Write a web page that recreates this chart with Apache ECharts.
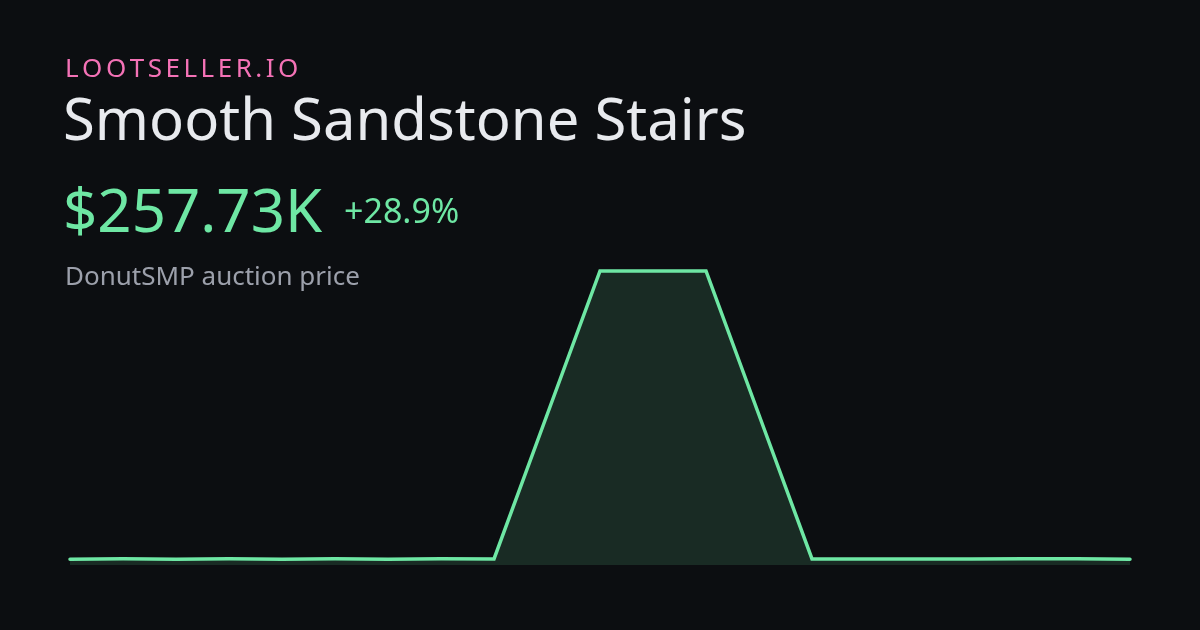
<!DOCTYPE html>
<html>
<head>
<meta charset="utf-8">
<style>
  html, body { margin: 0; padding: 0; background: #0c0e11; }
  #chart { width: 1200px; height: 630px; }
</style>
<script src="https://cdn.jsdelivr.net/npm/echarts@6/dist/echarts.min.js"></script>
</head>
<body>
<div id="chart"></div>
<script>
// Data (values in thousands of $)
const categories = ['1','2','3','4','5','6','7','8','9','10','11','12','13','14','15','16','17','18','19','20','21'];
const prices = [5.1, 5.5, 5.1, 5.5, 5.1, 5.5, 5.1, 5.4, 5.3, 131.5, 257.73, 257.73, 257.73, 131.5, 5.3, 5.3, 5.3, 5.3, 5.4, 5.5, 5.0];
const brand = 'LOOTSELLER.IO';
const itemName = 'Smooth Sandstone Stairs';
const priceLabel = '$257.73K';
const changeLabel = '+28.9%';
const subtitle = 'DonutSMP auction price';

const fontFam = '"Noto Sans", "Open Sans", sans-serif';
const brandFont = '400 26px ' + fontFam;
const brandSpacing = 3.5;

// letter-spaced brand: one text element per character, positioned via measured widths
const ctx = document.createElement('canvas').getContext('2d');
ctx.font = brandFont;
const brandChars = [];
let bx = 0;
for (const ch of brand) {
  brandChars.push({ type: 'text', x: bx, y: 0, style: { text: ch, font: brandFont, fill: '#f472b6' } });
  bx += ctx.measureText(ch).width + brandSpacing;
}

const chart = echarts.init(document.getElementById('chart'), null, { renderer: 'canvas' });
chart.setOption({
  backgroundColor: '#0c0e11',
  animation: false,
  grid: { left: 70, right: 70, top: 271, bottom: 65 },
  xAxis: { type: 'category', data: categories, boundaryGap: false, show: false },
  yAxis: { type: 'value', min: 0, max: 257.73, show: false },
  series: [{
    type: 'line',
    data: prices,
    symbol: 'none',
    clip: false,
    lineStyle: { color: '#6ee7a4', width: 3.5, join: 'miter', cap: 'round' },
    areaStyle: { color: 'rgba(110,231,164,0.19)' }
  }],
  graphic: [
    { type: 'group', left: 65, top: 57, children: brandChars },
    { type: 'text', left: 63, top: 94, style: { text: itemName, font: '400 58px ' + fontFam, fill: '#e8eaee' } },
    { type: 'text', left: 63, top: 185, style: { text: priceLabel, font: '400 60px ' + fontFam, fill: '#6ee7a4' } },
    { type: 'text', left: 344, top: 196, style: { text: changeLabel, font: '400 34px ' + fontFam, fill: '#6ee7a4' } },
    { type: 'text', left: 65, top: 265, style: { text: subtitle, font: '400 26px ' + fontFam, fill: '#9ca0ab' } }
  ]
});
</script>
</body>
</html>
